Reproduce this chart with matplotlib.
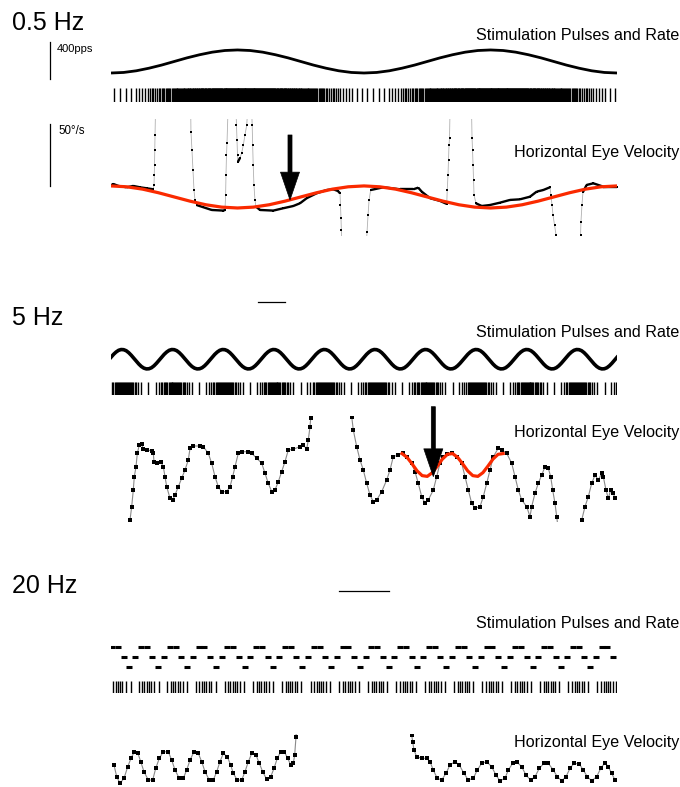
import numpy as np
import matplotlib
matplotlib.use("Agg")
import matplotlib.pyplot as plt
from matplotlib.collections import LineCollection

plt.rcParams['font.family'] = ['Liberation Sans', 'DejaVu Sans']

# ---- stimulation rate (pps), one modulation cycle each, sampled as in the figure
rate_05_cycle = [20, 26, 44, 72, 106, 145, 184, 218, 246, 264,
                 270, 264, 246, 218, 184, 145, 106, 72, 44, 26]   # 0.1 s steps
rate_5_cycle = [170, 207, 237, 259, 269, 267, 254, 229, 196, 159,
                120, 83, 52, 31, 21, 23, 36, 61, 94, 131]         # 10 ms steps
rate_20_cycle = [252, 252, 140, 20, 140]                          # 10 ms steps

# ---- horizontal eye velocity (deg/s), 0.5 Hz
eye_05_t = [0.005, 0.018, 0.058, 0.124, 0.176, 0.229, 0.282, 0.334,
            0.340, 0.342, 0.344, 0.346, 0.348, 0.352,
            0.630, 0.632, 0.640, 0.648, 0.656, 0.664, 0.677, 0.730, 0.796, 0.888, 0.901,
            0.906, 0.909, 0.913, 0.917, 0.925,
            0.988, 0.992, 0.996, 1.000, 1.004, 1.020, 1.033, 1.046, 1.059, 1.073, 1.080,
            1.112, 1.116, 1.120, 1.124, 1.130, 1.138, 1.146, 1.178, 1.283, 1.362, 1.441,
            1.494, 1.547, 1.626, 1.705, 1.757, 1.794, 1.810,
            1.814, 1.818, 1.821, 1.826,
            2.016, 2.024, 2.032, 2.040, 2.053, 2.153, 2.285, 2.390, 2.429, 2.456, 2.522,
            2.601, 2.654,
            2.658, 2.664, 2.668, 2.672, 2.676, 2.680, 2.850, 2.854, 2.858, 2.862, 2.866,
            2.870, 2.885, 2.930, 2.996, 3.075, 3.154, 3.233, 3.312, 3.365, 3.417, 3.470,
            3.478, 3.486, 3.494, 3.506, 3.518, 3.526,
            3.708, 3.712, 3.715, 3.723, 3.731, 3.760, 3.813, 3.892, 3.997]
eye_05_v = [9.7, 10.5, 8.9, 7.8, 8.9, 7.8, 7.0, 6.2,
            9.7, 17.7, 25.8, 37.9, 50.0, 70.0,
            70.0, 52.7, 37.9, 21.8, 5.6, -2.4, -6.5, -8.3, -10.5, -11.0, -10.5,
            1.6, 17.7, 33.9, 43.5, 70.0,
            70.0, 58.0, 46.0, 33.9, 28.5, 31.5, 35.5, 41.9, 50.0, 58.0, 70.0,
            70.0, 58.0, 41.9, 25.8, 9.7, -2.4, -7.8, -10.5, -11.0, -9.1, -7.3,
            -5.1, -1.0, 3.0, 5.6, 6.2, 4.8, 3.0,
            -6.5, -16.9, -26.6, -42.7,
            -42.7, -28.2, -14.5, -2.4, 5.6, 7.8, 6.2, 6.2, 7.5, 4.3, -1.0,
            -3.2, -5.6,
            5.6, 17.7, 29.8, 41.9, 47.6, 70.0, 70.0, 47.6, 37.9, 25.8, 13.7,
            1.6, -5.1, -7.3, -6.5, -4.6, -2.4, -1.9, 0.2, 4.3, 5.6, 7.8,
            1.6, -6.5, -14.5, -22.6, -30.6, -42.7,
            -42.7, -30.6, -20.2, -6.5, 4.0, 9.7, 11.0, 8.3, 8.3]
fit_05_t = [0.0, 0.125, 0.25, 0.375, 0.5, 0.625, 0.75, 0.875, 1.0, 1.125, 1.25,
            1.375, 1.5, 1.625, 1.75, 1.875, 2.0, 2.125, 2.25, 2.375, 2.5, 2.625,
            2.75, 2.875, 3.0, 3.125, 3.25, 3.375, 3.5, 3.625, 3.75, 3.875, 4.0]
fit_05_v = [8.9, 8.2, 6.3, 3.4, 0.0, -3.4, -6.3, -8.2, -8.9, -8.2, -6.3,
            -3.4, 0.0, 3.4, 6.3, 8.2, 8.9, 8.2, 6.3, 3.4, 0.0, -3.4,
            -6.3, -8.2, -8.9, -8.2, -6.3, -3.4, 0.0, 3.4, 6.3, 8.2, 8.9]

# ---- 5 Hz
eye_5_t = [0.0731, 0.0751, 0.0818, 0.0881, 0.0921, 0.0988, 0.1040, 0.1119, 0.1213, 0.1277,
           0.1411, 0.1609, 0.1672, 0.1700, 0.1806, 0.1964, 0.2067, 0.2134, 0.2202, 0.2332,
           0.2439, 0.2530, 0.2660, 0.2794, 0.2925, 0.3055, 0.3123, 0.3253, 0.3518, 0.3648,
           0.3846, 0.3980, 0.4111, 0.4241, 0.4375, 0.4573, 0.4704, 0.4810, 0.4901, 0.5032,
           0.5166, 0.5427, 0.5561, 0.5759, 0.5957, 0.6087, 0.6217, 0.6352, 0.6482, 0.6613,
           0.6747, 0.6877, 0.7008, 0.7206, 0.7470, 0.7601, 0.7735, 0.7798, 0.7866, 0.7893,
           0.7945,
           0.9447, 0.9514, 0.9577, 0.9711, 0.9842, 0.9972, 1.0107, 1.0237, 1.0368, 1.0502,
           1.0700, 1.0897, 1.1028, 1.1158, 1.1356, 1.1553, 1.1688, 1.1885, 1.2016, 1.2146,
           1.2281, 1.2411, 1.2542, 1.2739, 1.2874, 1.3004, 1.3134, 1.3269, 1.3466, 1.3664,
           1.3862, 1.3992, 1.4123, 1.4257, 1.4387, 1.4585, 1.4715, 1.4850, 1.4980, 1.5111,
           1.5308, 1.5443, 1.5640, 1.5838, 1.5968, 1.6099, 1.6233, 1.6431, 1.6561, 1.6628,
           1.6759, 1.6889, 1.7024, 1.7154, 1.7285, 1.7379, 1.7458, 1.7549, 1.7617, 1.7708,
           1.8538, 1.8605, 1.8735, 1.8866, 1.9000, 1.9130, 1.9261, 1.9395, 1.9458, 1.9565,
           1.9656, 1.9751, 1.9854, 1.9921]
eye_5_v = [-52.4, -44.4, -33.6, -20.2, -9.4, -1.4, 9.4, 16.1, 16.9, 12.7,
           12.1, 11.5, 9.4, 2.7, 1.4, 2.7, -1.4, -9.4, -17.5, -26.9,
           -28.2, -24.2, -17.5, -10.7, -4.0, 4.0, 13.5, 15.3, 15.3, 14.8,
           9.4, 1.4, -9.4, -17.5, -21.5, -21.5, -17.5, -9.4, -1.4, 9.4,
           10.7, 10.7, 9.4, 5.4, 1.4, -6.7, -14.8, -21.5, -20.2, -13.5,
           -5.4, 2.7, 12.1, 12.7, 14.8, 16.1, 12.7, 20.2, 30.9, 37.7,
           48.4,
           48.4, 39.0, 28.2, 14.8, 4.0, -4.0, -14.8, -24.2, -29.6, -28.2,
           -21.5, -12.1, -4.0, 6.7, 8.1, 9.9, 6.7, 1.4, -5.4, -14.8,
           -25.6, -30.9, -28.2, -20.2, -9.4, 1.4, 6.7, 8.9, 9.4, 6.7,
           1.4, -9.4, -20.2, -30.9, -34.9, -33.6, -25.6, -14.8, -4.0, 6.7,
           13.5, 12.1, 9.4, 1.4, -9.4, -20.2, -28.2, -33.6, -41.7, -33.6,
           -22.8, -14.8, -8.1, -1.4, -2.7, -9.4, -20.2, -30.9, -41.7, -56.5,
           -56.5, -44.4, -33.6, -25.6, -14.8, -8.1, -12.1, -6.7, -9.4, -20.2,
           -26.9, -20.2, -22.8, -26.9]
fit_5_t = [1.15, 1.17, 1.19, 1.21, 1.23, 1.25, 1.27, 1.29, 1.31, 1.33, 1.35,
           1.37, 1.39, 1.41, 1.43, 1.45, 1.47, 1.49, 1.51, 1.53, 1.55]
fit_5_v = [9.2, 6.2, 0.9, -4.8, -8.6, -9.2, -6.2, -0.9, 4.8, 8.6, 9.2,
           6.2, 0.9, -4.8, -8.6, -9.2, -6.2, -0.9, 4.8, 8.6, 9.2]

# ---- 20 Hz
eye_20_t = [0.0052, 0.0099, 0.0156, 0.0226, 0.0290, 0.0347, 0.0405, 0.0464, 0.0516, 0.0573,
            0.0648, 0.0724, 0.0776, 0.0839, 0.0908, 0.0995, 0.1054, 0.1111, 0.1186, 0.1255,
            0.1314, 0.1372, 0.1441, 0.1516, 0.1575, 0.1632, 0.1707, 0.1776, 0.1835, 0.1892,
            0.1950, 0.2019, 0.2078, 0.2123, 0.2193, 0.2269, 0.2326, 0.2384, 0.2443, 0.2517,
            0.2575, 0.2634, 0.2703, 0.2773, 0.2830, 0.2887, 0.2946, 0.3009, 0.3068, 0.3120,
            0.3165, 0.3189, 0.3212, 0.3229,
            0.5208, 0.5220, 0.5238, 0.5260, 0.5307, 0.5394, 0.5481, 0.5538, 0.5595, 0.5665,
            0.5741, 0.5816, 0.5885, 0.5972, 0.6047, 0.6128, 0.6203, 0.6290, 0.6359, 0.6436,
            0.6523, 0.6609, 0.6684, 0.6753, 0.6840, 0.6898, 0.6974, 0.7043, 0.7130, 0.7205,
            0.7286, 0.7361, 0.7436, 0.7517, 0.7592, 0.7679, 0.7748, 0.7825, 0.7899, 0.7969,
            0.8038, 0.8130, 0.8200, 0.8269, 0.8345, 0.8432, 0.8502, 0.8576, 0.8634, 0.8693,
            0.8750]
eye_20_v = [0.8, -8.6, -14.0, -9.9, -0.6, 6.2, 11.5, 10.7, 3.5, -4.6,
            -11.3, -11.3, -1.9, 6.2, 11.5, 11.5, 4.8, -3.2, -9.9, -9.9,
            -3.2, 4.8, 11.5, 10.2, 3.5, -4.6, -11.3, -11.3, -4.6, 3.5,
            10.2, 7.5, 0.8, -5.9, -11.3, -11.3, -4.6, 3.5, 10.2, 8.9,
            2.2, -4.6, -10.7, -8.6, -1.9, 6.2, 11.5, 11.5, 6.2, 0.8,
            2.2, 8.9, 23.6, 37.1,
            37.1, 25.0, 19.6, 12.9, 7.5, 6.2, 6.2, 3.5, -3.2, -9.9,
            -11.3, -5.9, 0.8, 3.5, 0.8, -5.9, -11.3, -9.9, -3.2, 2.2,
            3.5, -0.6, -7.3, -11.9, -9.9, -3.2, 2.2, 3.5, -0.6, -7.3,
            -11.3, -8.6, -1.9, 2.2, 2.2, -3.2, -8.6, -11.9, -8.6, -1.9,
            2.2, 1.6, -3.2, -8.6, -11.9, -8.6, -1.9, 2.7, -0.6, -5.9,
            -11.3]

RED = '#fa2a00'
W, H = 680, 787
fig = plt.figure(figsize=(W / 100, H / 100), dpi=100)
fig.patch.set_facecolor('white')


def panel_axes(top, bottom, xlim, ylim):
    ax = fig.add_axes([111 / W, 1 - bottom / H, 506 / W, (bottom - top) / H])
    ax.set_xlim(*xlim)
    ax.set_ylim(*ylim)
    ax.axis('off')
    return ax


def pulse_times(t0, dt, rates):
    # pulses fired at the plotted rate, rate held over each sample bin
    times = []
    phase = 0.5
    for k, r in enumerate(rates):
        start = phase
        phase += r * dt
        n = np.arange(np.floor(start) + 1, np.floor(phase) + 1)
        times.extend(t0 + k * dt + (n - start) / r)
    return np.array(times)


def dotted_trace(ax, t, v, ms=2.3):
    ax.plot(t, v, '-', color='#8a8a8a', lw=0.8, zorder=2)
    ax.plot(t, v, 's', color='k', ms=ms, mew=0, zorder=3)


def arrow(ax, x, v_tip, v_tail):
    ax.annotate('', xy=(x, v_tip), xytext=(x, v_tail), annotation_clip=False,
                arrowprops=dict(arrowstyle='simple,head_length=2.0,head_width=1.37,tail_width=0.29',
                                mutation_scale=10, fc='k', ec='k', lw=0.5,
                                shrinkA=0, shrinkB=0), zorder=6)


# ================= 0.5 Hz =================
r05 = np.append(np.tile(rate_05_cycle, 2), rate_05_cycle[0])
t_r05 = np.arange(len(r05)) * 0.1
ax = panel_axes(40, 80, (0, 4), (-55.9, 378))
ax.plot(t_r05, r05, color='k', lw=2.0, solid_capstyle='butt')
ax.plot([-0.482, -0.482], [-45, 355], color='k', lw=0.9, clip_on=False)

ax = panel_axes(88, 102, (0, 4), (-0.5, 0.5))
ax.eventplot(pulse_times(0.0, 0.1, r05[:-1]), lineoffsets=0, linelengths=1,
             colors='k', linewidths=1.0)

ax = panel_axes(119, 236, (0, 4), (-31.5, 62.9))
t = np.array(eye_05_t)
v = np.array(eye_05_v)
pts = np.column_stack([t, v])
segs = np.stack([pts[:-1], pts[1:]], axis=1)
fast = np.abs(np.diff(v)) / np.maximum(np.diff(t), 1e-4) > 250
ax.add_collection(LineCollection(segs[~fast], colors='k', linewidths=1.7, zorder=3))
ax.add_collection(LineCollection(segs[fast], colors='#b0b0b0', linewidths=0.6, zorder=2))
ax.plot(t, v, 's', color='k', ms=2.0, mew=0, zorder=3)
ax.plot(fit_05_t, fit_05_v, color=RED, lw=2.3, zorder=4)
ax.plot([-0.482, -0.482], [8.9, 58.9], color='k', lw=0.9, clip_on=False)
ax.plot([1.166, 1.375], [-85, -85], color='k', lw=0.9, clip_on=False)
arrow(ax, 1.415, -2.4, 50)

# ================= 5 Hz =================
r5 = np.append(np.tile(rate_5_cycle, 10), rate_5_cycle[0])
t_r5 = np.arange(len(r5)) * 0.01
ax = panel_axes(340, 380, (0, 2), (-120.8, 391))
ax.plot(t_r5, r5, color='k', lw=2.6)

ax = panel_axes(382, 395, (0, 2), (-0.5, 0.5))
ax.eventplot(pulse_times(0.0, 0.01, r5[:-1]), lineoffsets=0, linelengths=1,
             colors='k', linewidths=1.0)

ax = panel_axes(416, 522, (0, 2), (-46.0, 39.5))
dotted_trace(ax, eye_5_t, eye_5_v)
ax.plot(fit_5_t, fit_5_v, color=RED, lw=2.3, marker='s', ms=2, mew=0, zorder=4)
ax.plot([0.9, 1.1], [-102, -102], color='k', lw=0.9, clip_on=False)
arrow(ax, 1.274, -9.4, 47)

# ================= 20 Hz =================
n20 = 88
r20 = np.tile(rate_20_cycle, 18)[:n20]
t_r20 = 0.002 + np.arange(n20) * 0.01
ax = panel_axes(635, 675, (0, 0.8785), (-72, 388))
ax.plot(t_r20, r20, linestyle='none', marker='_', ms=4.0, mew=2.2, color='k')

ax = panel_axes(681, 693, (0, 0.8785), (-0.5, 0.5))
ax.eventplot(pulse_times(0.002, 0.01, r20), lineoffsets=0, linelengths=1,
             colors='k', linewidths=1.0)

ax = panel_axes(734, 787, (0, 0.8785), (-16.9, 25.8))
dotted_trace(ax, eye_20_t, eye_20_v)

# ================= labels =================
for txt, yb in [('0.5 Hz', 30), ('5 Hz', 325), ('20 Hz', 593)]:
    fig.text(12 / W, 1 - yb / H, txt, fontsize=18, ha='left', va='baseline')
for yb in [40, 337, 628]:
    fig.text(679 / W, 1 - yb / H, 'Stimulation Pulses and Rate', fontsize=11.6,
             ha='right', va='baseline')
for yb in [157, 437, 747]:
    fig.text(679 / W, 1 - yb / H, 'Horizontal Eye Velocity', fontsize=11.6,
             ha='right', va='baseline')
fig.text(57 / W, 1 - 52 / H, '400pps', fontsize=8, ha='left', va='baseline')
fig.text(58 / W, 1 - 134 / H, '50°/s', fontsize=8.3, ha='left', va='baseline')

fig.savefig('out.png', dpi=100, facecolor='white')
